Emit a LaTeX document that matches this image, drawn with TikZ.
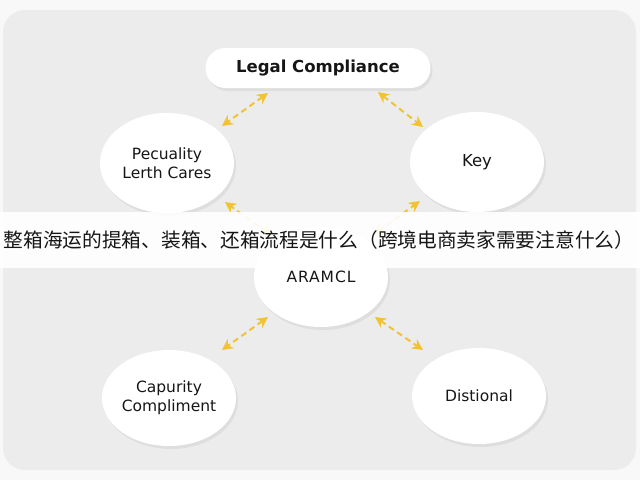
\documentclass[tikz,border=0pt]{standalone}
\usepackage{fontspec}
\setmainfont{DejaVu Sans}
\newfontfamily\cjk{Noto Sans CJK SC}
\usetikzlibrary{shapes.geometric,shadows,arrows.meta}
\definecolor{panel}{HTML}{ECECEC}
\definecolor{outer}{HTML}{F8F8F8}
\definecolor{gold}{HTML}{F2C230}
\definecolor{ink}{HTML}{161616}
\begin{document}
\begin{tikzpicture}[x=1pt,y=-1pt,
  bubble/.style={ellipse, fill=white, minimum width=134pt, minimum height=100pt,
    inner sep=0pt, align=center, text=ink, font=\fontsize{15.5}{19}\selectfont,
    drop shadow={shadow xshift=2pt, shadow yshift=-3pt, opacity=0.12}},
  pill/.style={rectangle, rounded corners=20pt, fill=white, minimum width=225pt,
    minimum height=40pt, text=ink, font=\bfseries\fontsize{16.5}{18}\selectfont,
    drop shadow={shadow xshift=2pt, shadow yshift=-3pt, opacity=0.12}},
  link/.style={gold, line width=2pt, dash pattern=on 6pt off 4pt,
    {Stealth[length=11pt,width=11pt]}-{Stealth[length=11pt,width=11pt]}}]
\path[use as bounding box, fill=outer] (0,0) rectangle (640,480);
\fill[panel, rounded corners=22pt] (3,10) rectangle (636,470);

% arrow end points
\coordinate (a1s) at (268,93);  \coordinate (a1e) at (222,126);
\coordinate (a2s) at (378,92);  \coordinate (a2e) at (423,127);
\coordinate (a3s) at (272,236); \coordinate (a3e) at (225,202);
\coordinate (a4s) at (373,235); \coordinate (a4e) at (420,201);
\coordinate (a5s) at (268,317); \coordinate (a5e) at (222,350);
\coordinate (a6s) at (375,317); \coordinate (a6e) at (423,350);

\draw[link] (a1s) -- (a1e);
\draw[link] (a2s) -- (a2e);
\draw[link] (a3s) -- (a3e);
\draw[link] (a4s) -- (a4e);
\draw[link] (a5s) -- (a5e);
\draw[link] (a6s) -- (a6e);

\node[pill] (legal) at (318,68) {Legal Compliance};
\node[bubble] (tl) at (167,163) {Pecuality\\Lerth Cares};
\node[bubble, font=\fontsize{16.5}{19}\selectfont] (tr) at (477,162) {Key};
\node[bubble] (ctr) at (321,277) {\addfontfeature{LetterSpace=6}ARAMCL};
\node[bubble, minimum height=96pt] (bl) at (169,398) {Capurity\\Compliment};
\node[bubble, minimum height=96pt] (br) at (479,396) {Distional};

% banner
\fill[white, opacity=0.9] (0,212) rectangle (640,268);
\node[text=ink, inner sep=0pt, font=\cjk\fontsize{19.7}{22}\selectfont] (banner) at (319,240)
  {整箱海运的提箱、装箱、还箱流程是什么（跨境电商卖家需要注意什么）};
\end{tikzpicture}
\end{document}
